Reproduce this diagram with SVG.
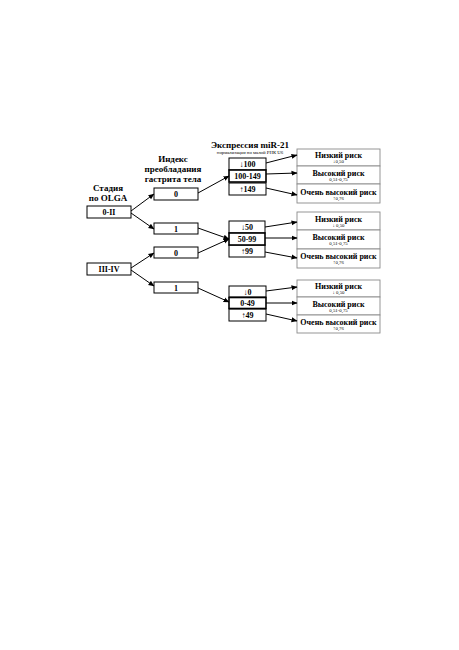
<svg xmlns="http://www.w3.org/2000/svg" width="459" height="650" viewBox="0 0 459 650">
<defs>
<marker id="ah" markerWidth="6" markerHeight="6" refX="5.5" refY="3" orient="auto" markerUnits="userSpaceOnUse">
<path d="M0,0.5 L6,3 L0,5.5 Z" fill="#000"/>
</marker>
<style>
text{font-family:"Liberation Serif","Times New Roman",serif;font-weight:bold;fill:#000;text-anchor:middle}
.h{font-size:9px}
.b{font-size:8px}
.r{font-size:8px}
.s{font-size:4.8px;font-weight:normal}
.box{fill:#fff;stroke:#000;stroke-width:1}
.mid{fill:#fff;stroke:#000;stroke-width:1.6}
.risk{fill:#fff;stroke:#8a8a8a;stroke-width:0.9}
.c line{stroke:#000;stroke-width:1;marker-end:url(#ah)}
</style>
</defs>
<rect width="459" height="650" fill="#fff"/>

<g id="headers">
<text class="h" x="108" y="191">Стадия</text>
<text class="h" x="108" y="201">по OLGA</text>
<text class="h" x="173" y="162">Индекс</text>
<text class="h" x="173" y="172">преобладания</text>
<text class="h" x="173" y="182">гастрита тела</text>
<text class="h" x="250" y="148">Экспрессия miR-21</text>
<text class="s" x="250" y="154">нормализация по малой РНК U6</text>
</g>

<g id="stage-0-II"><rect class="box" x="87" y="206" width="44" height="12"/><text class="b" x="109" y="215">0-II</text></g>
<g id="stage-III-IV"><rect class="box" x="87" y="263" width="44" height="12"/><text class="b" x="109" y="272">III-IV</text></g>

<g id="idx-a0"><rect class="box" x="154" y="188" width="44" height="12"/><text class="b" x="176" y="197">0</text></g>
<g id="idx-a1"><rect class="box" x="154" y="223" width="44" height="11"/><text class="b" x="176" y="231.5">1</text></g>
<g id="idx-b0"><rect class="box" x="154" y="247" width="44" height="11"/><text class="b" x="176" y="255.5">0</text></g>
<g id="idx-b1"><rect class="box" x="154" y="282" width="44" height="11"/><text class="b" x="176" y="290.5">1</text></g>

<g id="expr-1">
<rect class="box" x="229" y="158" width="37" height="12"/><text class="b" x="247.5" y="167">↓100</text>
<rect class="box" x="229" y="183" width="37" height="12"/><text class="b" x="247.5" y="192">↑149</text>
<rect class="mid" x="229" y="170" width="37" height="12"/><text class="b" x="247.5" y="179">100-149</text>
</g>
<g id="expr-2">
<rect class="box" x="229" y="221" width="36" height="12"/><text class="b" x="247" y="230">↓50</text>
<rect class="box" x="229" y="245" width="36" height="12"/><text class="b" x="247" y="254">↑99</text>
<rect class="mid" x="229" y="233" width="36" height="12"/><text class="b" x="247" y="242">50-99</text>
</g>
<g id="expr-3">
<rect class="box" x="229" y="286" width="37" height="11"/><text class="b" x="247.5" y="294.5">↓0</text>
<rect class="box" x="229" y="309" width="37" height="12"/><text class="b" x="247.5" y="318">↑49</text>
<rect class="mid" x="229" y="297.5" width="37" height="11"/><text class="b" x="247.5" y="306">0-49</text>
</g>

<g id="risk-1">
<rect class="risk" x="297" y="149" width="83" height="17"/><text class="r" x="338.5" y="158">Низкий риск</text><text class="s" x="338.5" y="163">↓0,50</text>
<rect class="risk" x="297" y="166" width="83" height="18"/><text class="r" x="338.5" y="175.5">Высокий риск</text><text class="s" x="338.5" y="180.5">0,51-0,75</text>
<rect class="risk" x="297" y="184" width="83" height="19"/><text class="r" x="338.5" y="194.5">Очень высокий риск</text><text class="s" x="338.5" y="199.5">↑0,76</text>
</g>
<g id="risk-2">
<rect class="risk" x="297" y="212" width="83" height="18"/><text class="r" x="338.5" y="221.5">Низкий риск</text><text class="s" x="338.5" y="226.5">↓ 0,50</text>
<rect class="risk" x="297" y="230" width="83" height="19"/><text class="r" x="338.5" y="240">Высокий риск</text><text class="s" x="338.5" y="245">0,51-0,75</text>
<rect class="risk" x="297" y="249" width="83" height="19"/><text class="r" x="338.5" y="259">Очень высокий риск</text><text class="s" x="338.5" y="264">↑0,76</text>
</g>
<g id="risk-3">
<rect class="risk" x="297" y="280" width="83" height="17"/><text class="r" x="338.5" y="289">Низкий риск</text><text class="s" x="338.5" y="294">↓ 0,50</text>
<rect class="risk" x="297" y="297" width="83" height="18"/><text class="r" x="338.5" y="306.5">Высокий риск</text><text class="s" x="338.5" y="311.5">0,51-0,75</text>
<rect class="risk" x="297" y="315" width="83" height="18"/><text class="r" x="338.5" y="325">Очень высокий риск</text><text class="s" x="338.5" y="330">↑0,76</text>
</g>

<g id="connectors" class="c">
<line x1="131" y1="211" x2="154" y2="194"/>
<line x1="131" y1="213" x2="154" y2="229"/>
<line x1="131" y1="268" x2="154" y2="253"/>
<line x1="131" y1="270" x2="154" y2="286"/>
<line x1="198" y1="193" x2="229" y2="176"/>
<line x1="198" y1="228" x2="229" y2="239"/>
<line x1="198" y1="253" x2="229" y2="239"/>
<line x1="198" y1="288" x2="229" y2="302"/>
<line x1="266" y1="163" x2="297" y2="155"/>
<line x1="266" y1="174" x2="297" y2="173"/>
<line x1="266" y1="188" x2="297" y2="195"/>
<line x1="265" y1="227" x2="297" y2="222"/>
<line x1="265" y1="238" x2="297" y2="238"/>
<line x1="265" y1="252" x2="297" y2="258"/>
<line x1="266" y1="291" x2="297" y2="287"/>
<line x1="266" y1="303" x2="297" y2="303"/>
<line x1="266" y1="314" x2="297" y2="321"/>
</g>
</svg>
